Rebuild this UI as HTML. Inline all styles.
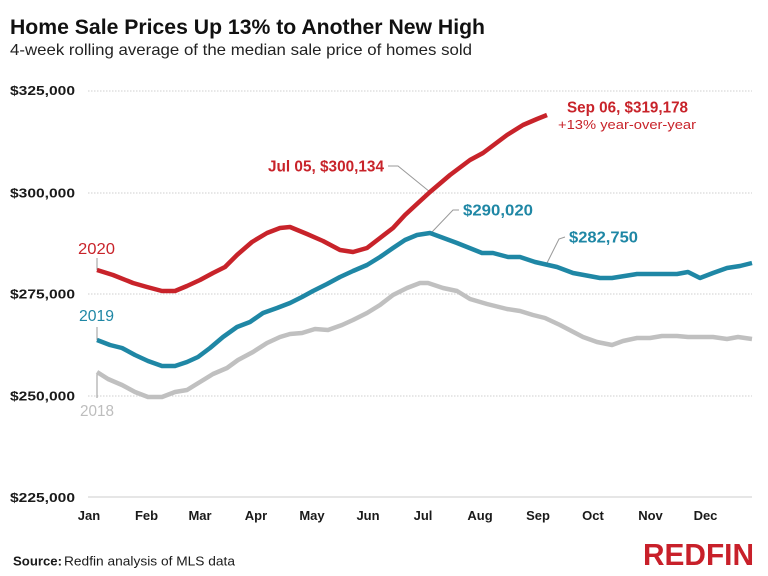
<!DOCTYPE html>
<html>
<head>
<meta charset="utf-8">
<style>
html,body{margin:0;padding:0;background:#fff;}
svg{display:block;}
text{font-family:"Liberation Sans",sans-serif;}
</style>
</head>
<body>
<svg width="768" height="576" viewBox="0 0 768 576" xmlns="http://www.w3.org/2000/svg">
<rect width="768" height="576" fill="#fff"/>
<!-- Title -->
<text x="10" y="34" font-size="21" font-weight="bold" fill="#111" textLength="475" lengthAdjust="spacingAndGlyphs">Home Sale Prices Up 13% to Another New High</text>
<text x="10" y="55" font-size="16" fill="#222" textLength="462" lengthAdjust="spacingAndGlyphs">4-week rolling average of the median sale price of homes sold</text>

<!-- gridlines -->
<g stroke="#cfcfcf" stroke-width="1" stroke-dasharray="1.5,1.5">
<line x1="88" y1="91" x2="752" y2="91"/>
<line x1="88" y1="193" x2="752" y2="193"/>
<line x1="88" y1="294" x2="752" y2="294"/>
<line x1="88" y1="396" x2="752" y2="396"/>
</g>
<line x1="88" y1="497" x2="752" y2="497" stroke="#cccccc" stroke-width="1"/>

<!-- y labels -->
<g font-size="13" font-weight="bold" fill="#1a1a1a">
<text x="10" y="95" textLength="65" lengthAdjust="spacingAndGlyphs">$325,000</text>
<text x="10" y="197.5" textLength="65" lengthAdjust="spacingAndGlyphs">$300,000</text>
<text x="10" y="298.5" textLength="65" lengthAdjust="spacingAndGlyphs">$275,000</text>
<text x="10" y="400.5" textLength="65" lengthAdjust="spacingAndGlyphs">$250,000</text>
<text x="10" y="502" textLength="65" lengthAdjust="spacingAndGlyphs">$225,000</text>
</g>

<!-- month labels -->
<g font-size="13" font-weight="bold" fill="#1a1a1a" text-anchor="middle">
<text x="89" y="520">Jan</text>
<text x="146.5" y="520">Feb</text>
<text x="200" y="520">Mar</text>
<text x="256" y="520">Apr</text>
<text x="312" y="520">May</text>
<text x="368" y="520">Jun</text>
<text x="423" y="520">Jul</text>
<text x="480" y="520">Aug</text>
<text x="538" y="520">Sep</text>
<text x="593" y="520">Oct</text>
<text x="650.5" y="520">Nov</text>
<text x="705.5" y="520">Dec</text>
</g>

<!-- year tick lines -->
<g stroke="#999" stroke-width="1" fill="none">
<line x1="97" y1="258" x2="97" y2="270"/>
<line x1="97" y1="327" x2="97" y2="340"/>
<line x1="97" y1="373" x2="97" y2="398"/>
<polyline points="388,166 398,166 430,192"/>
<polyline points="432,232 453,210 459,210"/>
<polyline points="547,263 559,239 565,237"/>
</g>

<!-- year labels -->
<text x="78" y="254" font-size="15.5" fill="#c8232a" textLength="37" lengthAdjust="spacingAndGlyphs">2020</text>
<text x="79" y="321" font-size="15.5" fill="#1f87a5" textLength="35" lengthAdjust="spacingAndGlyphs">2019</text>
<text x="80" y="416" font-size="15.5" fill="#bdbdbd" textLength="34" lengthAdjust="spacingAndGlyphs">2018</text>

<!-- series -->
<g fill="none" stroke-width="4.5" stroke-linejoin="round" stroke-linecap="butt">
<polyline stroke="#c0c0c0" points="97,372 108,379 122,385 135,392 148,397 162,397 175,392 187,390 200,382 213,374 227,368 238,360 253,352 267,343 280,337 290,334 302,333 315,329 328,330 342,325 353,320 367,313 380,305 393,295 407,288 420,283 428,283 443,288 457,291 470,299 487,304 507,309 520,311 533,315 545,318 560,325 583,337 597,342 612,345 623,341 637,338 650,338 662,336 677,336 688,337 700,337 713,337 727,339 738,337 752,339"/>
<polyline stroke="#1f87a5" points="97,340 110,345 122,348 135,355 148,361 162,366 175,366 187,362 198,357 210,348 223,337 237,327 250,322 263,313 277,308 290,303 302,297 313,291 327,284 340,277 353,271 367,265 380,257 393,248 405,240 417,235 430,233 457,243 482,253 493,253 508,257 520,257 535,262 557,267 573,273 600,278 612,278 637,274 653,274 677,274 688,272 700,278 713,273 727,268 740,266 752,263"/>
<polyline stroke="#c8232a" points="97,270 113,275 133,283 147,287 162,291 175,291 187,286 200,280 213,273 225,267 237,255 252,242 267,233 280,228 290,227 307,234 323,241 340,250 353,252 367,248 380,238 393,228 405,215 418,203 430,192 450,175 470,160 483,153 507,135 523,125 537,119 547,115"/>
</g>

<!-- annotations -->
<text x="268" y="171.5" font-size="16" font-weight="bold" fill="#c8232a" textLength="116" lengthAdjust="spacingAndGlyphs">Jul 05, $300,134</text>
<text x="463" y="215.5" font-size="16" font-weight="bold" fill="#1f87a5" textLength="70" lengthAdjust="spacingAndGlyphs">$290,020</text>
<text x="569" y="242.5" font-size="16" font-weight="bold" fill="#1f87a5" textLength="69" lengthAdjust="spacingAndGlyphs">$282,750</text>
<text x="567" y="112.5" font-size="16" font-weight="bold" fill="#c8232a" textLength="121" lengthAdjust="spacingAndGlyphs">Sep 06, $319,178</text>
<text x="558" y="129" font-size="13" fill="#c8232a" textLength="138" lengthAdjust="spacingAndGlyphs">+13% year-over-year</text>

<!-- footer -->
<text x="13" y="565.5" font-size="13" font-weight="bold" fill="#1a1a1a" textLength="49" lengthAdjust="spacingAndGlyphs">Source:</text>
<text x="64" y="565.5" font-size="13" fill="#1a1a1a" textLength="171" lengthAdjust="spacingAndGlyphs">Redfin analysis of MLS data</text>
<text x="643" y="565" font-size="31" font-weight="bold" fill="#c8202a" textLength="111" lengthAdjust="spacingAndGlyphs">REDFIN</text>
</svg>
</body>
</html>
